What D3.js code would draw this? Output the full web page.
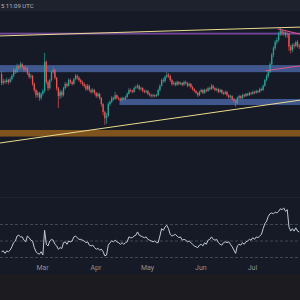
<!DOCTYPE html>
<html>
<head>
<meta charset="utf-8">
<script src="https://d3js.org/d3.v7.min.js"></script>
<style>
  html, body { margin: 0; padding: 0; background: #151a26; }
  svg { display: block; font-family: Roboto, "Noto Sans", sans-serif; }
</style>
</head>
<body>
<svg id="chart" width="300" height="300"></svg>
<script>
// daily candles, first one on Feb 5
var startDay = "2025-02-05";
var firstOpen = 2.68;
var closes = [
  2.49, 2.53, 2.51, 2.55, 2.51, 2.57, 2.64, 2.77, 2.72, 2.85,
  2.81, 2.89, 2.83, 2.77, 2.81, 2.70, 2.62, 2.64, 2.47, 2.34,
  2.23, 2.28, 2.17, 2.26, 2.32, 2.94, 2.51, 2.38, 2.55, 2.72,
  2.77, 2.60, 2.38, 2.21, 2.30, 2.23, 2.38, 2.47, 2.43, 2.55,
  2.51, 2.47, 2.57, 2.64, 2.60, 2.55, 2.51, 2.47, 2.43, 2.36,
  2.43, 2.34, 2.30, 2.34, 2.28, 2.21, 2.26, 2.17, 2.04, 1.87,
  1.74, 1.79, 2.04, 2.09, 2.17, 2.15, 2.23, 2.17, 2.15, 2.13,
  2.17, 2.15, 2.19, 2.26, 2.34, 2.32, 2.30, 2.38, 2.40, 2.43,
  2.36, 2.38, 2.32, 2.30, 2.32, 2.26, 2.23, 2.21, 2.23, 2.21,
  2.23, 2.34, 2.43, 2.55, 2.53, 2.62, 2.66, 2.64, 2.55, 2.47,
  2.49, 2.45, 2.51, 2.47, 2.49, 2.45, 2.51, 2.49, 2.43, 2.47,
  2.40, 2.36, 2.32, 2.28, 2.23, 2.30, 2.34, 2.28, 2.34, 2.32,
  2.38, 2.36, 2.43, 2.38, 2.34, 2.36, 2.30, 2.34, 2.28, 2.26,
  2.30, 2.23, 2.19, 2.21, 2.15, 2.11, 2.06, 2.17, 2.21, 2.17,
  2.23, 2.21, 2.26, 2.23, 2.28, 2.26, 2.30, 2.28, 2.32, 2.30,
  2.36, 2.34, 2.43, 2.55, 2.64, 2.72, 2.89, 3.09, 3.23, 3.36,
  3.40, 3.53, 3.60, 3.55, 3.57, 3.51, 3.53, 3.26, 3.19, 3.30,
  3.28, 3.36, 3.28, 3.26
];
var highs = [
  2.74, 2.58, 2.57, 2.60, 2.58, 2.61, 2.68, 2.81, 2.80, 2.90,
  2.88, 2.94, 2.92, 2.86, 2.85, 2.83, 2.73, 2.68, 2.66, 2.50,
  2.37, 2.32, 2.30, 2.29, 2.36, 3.13, 2.97, 2.55, 2.58, 2.76,
  2.85, 2.79, 2.62, 2.41, 2.35, 2.33, 2.41, 2.51, 2.50, 2.59,
  2.58, 2.54, 2.60, 2.68, 2.67, 2.63, 2.58, 2.54, 2.50, 2.46,
  2.47, 2.45, 2.37, 2.38, 2.36, 2.30, 2.29, 2.28, 2.19, 2.06,
  1.90, 1.85, 2.08, 2.12, 2.21, 2.20, 2.30, 2.25, 2.20, 2.18,
  2.20, 2.19, 2.22, 2.29, 2.38, 2.37, 2.35, 2.41, 2.44, 2.47,
  2.45, 2.41, 2.40, 2.35, 2.35, 2.34, 2.29, 2.26, 2.26, 2.25,
  2.26, 2.37, 2.46, 2.58, 2.60, 2.65, 2.72, 2.70, 2.67, 2.58,
  2.53, 2.52, 2.54, 2.53, 2.52, 2.51, 2.54, 2.54, 2.51, 2.50,
  2.49, 2.43, 2.38, 2.34, 2.30, 2.33, 2.37, 2.36, 2.37, 2.37,
  2.41, 2.41, 2.47, 2.45, 2.40, 2.39, 2.38, 2.37, 2.36, 2.31,
  2.33, 2.32, 2.25, 2.24, 2.23, 2.17, 2.13, 2.20, 2.24, 2.23,
  2.26, 2.26, 2.28, 2.28, 2.31, 2.30, 2.33, 2.32, 2.35, 2.34,
  2.39, 2.39, 2.46, 2.58, 2.68, 2.76, 2.93, 3.13, 3.27, 3.40,
  3.46, 3.58, 3.66, 3.63, 3.61, 3.59, 3.57, 3.55, 3.30, 3.33,
  3.34, 3.39, 3.40, 3.32
];
var lows = [
  2.44, 2.45, 2.47, 2.48, 2.46, 2.49, 2.54, 2.61, 2.68, 2.70,
  2.77, 2.78, 2.80, 2.73, 2.74, 2.66, 2.58, 2.58, 2.43, 2.29,
  2.17, 2.19, 2.11, 2.13, 2.22, 2.28, 2.46, 2.32, 2.35, 2.52,
  2.69, 2.56, 2.33, 1.96, 2.15, 2.18, 2.20, 2.35, 2.39, 2.41,
  2.47, 2.43, 2.45, 2.54, 2.56, 2.51, 2.47, 2.43, 2.39, 2.32,
  2.33, 2.30, 2.26, 2.27, 2.24, 2.17, 2.18, 2.13, 1.99, 1.80,
  1.60, 1.62, 1.77, 2.00, 2.06, 2.11, 2.13, 2.14, 2.12, 2.10,
  2.10, 2.12, 2.13, 2.17, 2.24, 2.29, 2.27, 2.28, 2.36, 2.37,
  2.33, 2.33, 2.29, 2.27, 2.27, 2.23, 2.20, 2.18, 2.18, 2.18,
  2.19, 2.21, 2.31, 2.41, 2.49, 2.50, 2.59, 2.60, 2.51, 2.43,
  2.44, 2.42, 2.43, 2.44, 2.44, 2.42, 2.43, 2.46, 2.40, 2.41,
  2.37, 2.33, 2.29, 2.25, 2.19, 2.21, 2.28, 2.25, 2.26, 2.29,
  2.30, 2.33, 2.34, 2.35, 2.31, 2.31, 2.27, 2.28, 2.25, 2.23,
  2.24, 2.20, 2.15, 2.16, 2.12, 2.07, 1.98, 2.04, 2.14, 2.14,
  2.15, 2.18, 2.19, 2.21, 2.21, 2.23, 2.24, 2.25, 2.26, 2.27,
  2.28, 2.31, 2.32, 2.41, 2.52, 2.60, 2.70, 2.86, 3.04, 3.19,
  3.31, 3.37, 3.49, 3.50, 3.49, 3.46, 3.45, 3.17, 3.12, 3.15,
  3.22, 3.25, 3.24, 3.21
];
var rsi = [
  37, 38, 35, 38, 37, 39, 43, 48, 50, 56,
  57, 55, 55, 51, 49, 56, 54, 51, 50, 42,
  37, 35, 34, 37, 33, 63, 46, 44, 50, 52,
  51, 46, 44, 40, 42, 41, 48, 49, 46, 50,
  49, 50, 55, 56, 54, 52, 52, 51, 50, 48,
  49, 45, 44, 45, 42, 40, 41, 39, 40, 37,
  32, 33, 45, 48, 50, 49, 51, 49, 48, 46,
  48, 46, 48, 49, 55, 54, 54, 56, 57, 61,
  57, 56, 55, 54, 55, 52, 51, 50, 49, 50,
  48, 48, 56, 65, 63, 67, 69, 65, 58, 56,
  57, 58, 56, 54, 55, 51, 52, 51, 49, 50,
  48, 46, 44, 43, 42, 45, 46, 44, 48, 46,
  51, 52, 55, 52, 51, 52, 48, 46, 45, 48,
  49, 48, 49, 46, 43, 39, 35, 44, 46, 45,
  48, 46, 49, 50, 52, 51, 54, 52, 55, 54,
  56, 58, 65, 71, 74, 80, 83, 84, 83, 85,
  84, 86, 89, 88, 90, 86, 88, 67, 62, 65,
  62, 66, 62, 61
];
var rsiLevels = [70, 50, 30];

// zones [bottom, top] and drawn lines
var purpleZone = [3.52, 3.56];
var upperBlueZone = [2.72, 2.87];
var lowerBlueZone = [2.02, 2.15];
var lowerBlueStart = "2025-04-15";
var orangeZone = [1.35, 1.49];
var upperTrend = [["2025-02-04", 3.49], ["2025-07-30", 3.68]];
var lowerTrend = [["2025-02-04", 1.21], ["2025-07-30", 2.13]];
var pinkTop = [["2025-07-16", 3.64], ["2025-07-30", 3.52]];
var pinkBottom = [["2025-07-09", 2.75], ["2025-07-30", 2.86]];

var monthTicks = ["2025-03-01", "2025-04-01", "2025-05-01", "2025-06-01", "2025-07-01"];
var monthLabels = ["Mar", "Apr", "May", "Jun", "Jul"];
var headerText = "5 11:09 UTC";

var parse = d3.timeParse("%Y-%m-%d");
var svg = d3.select("#chart"),
    W = 300, H = 300;

var x = d3.scaleTime()
    .domain([new Date(2025, 1, 4, 14), new Date(2025, 6, 28, 22)])
    .range([0, W]);
var y = d3.scaleLinear().domain([0, 4.255]).range([200, 0]);
var yR = d3.scaleLinear().domain([30, 70]).range([257.5, 224.5]);

// backgrounds
svg.append("rect").attr("width", W).attr("height", H).attr("fill", "#151a26");
svg.append("rect").attr("width", W).attr("height", 11).attr("fill", "#1e222c");
svg.append("rect").attr("y", 274).attr("width", W).attr("height", 26).attr("fill", "#1c1c20");
svg.append("line").attr("x1", 0).attr("x2", W).attr("y1", 197.5).attr("y2", 197.5)
   .attr("stroke", "#1f2430").attr("stroke-width", 1);

svg.append("text")
   .attr("x", 1).attr("y", 7.5)
   .attr("font-size", "6px")
   .attr("fill", "#b4b8c2")
   .text(headerText);

svg.append("clipPath").attr("id", "pane")
   .append("rect").attr("x", 0).attr("y", 11).attr("width", W).attr("height", 186);
var g = svg.append("g").attr("clip-path", "url(#pane)");

function zone(z, from, color, op) {
    var x0 = from ? x(parse(from)) : 0;
    g.append("rect")
     .attr("x", x0).attr("width", W - x0)
     .attr("y", y(z[1])).attr("height", y(z[0]) - y(z[1]))
     .attr("fill", color).attr("opacity", op);
}
zone(purpleZone, null, "#7a4aa6", 0.9);
zone(upperBlueZone, null, "#4763a0", 0.85);
zone(lowerBlueZone, lowerBlueStart, "#4763a0", 0.85);
zone(orangeZone, null, "#85561d", 0.95);

// candles
var candles = closes.map(function(c, i) {
    var day = d3.timeDay.offset(parse(startDay), i);
    return {
        date: d3.timeHour.offset(day, 12),
        open: i == 0 ? firstOpen : closes[i - 1],
        close: c, high: highs[i], low: lows[i]
    };
});

var cg = g.selectAll(".candle").data(candles).enter().append("g");
cg.append("line")
  .attr("x1", function(d) { return x(d.date); })
  .attr("x2", function(d) { return x(d.date); })
  .attr("y1", function(d) { return y(d.high); })
  .attr("y2", function(d) { return y(d.low); })
  .attr("stroke", function(d) { return d.close >= d.open ? "#26a69a" : "#ef5350"; })
  .attr("stroke-width", 0.7);
cg.append("rect")
  .attr("x", function(d) { return x(d.date) - 0.65; })
  .attr("width", 1.3)
  .attr("y", function(d) { return y(Math.max(d.open, d.close)); })
  .attr("height", function(d) { return Math.max(0.6, Math.abs(y(d.open) - y(d.close))); })
  .attr("fill", function(d) { return d.close >= d.open ? "#26a69a" : "#ef5350"; });

function trend(pts, color, w) {
    g.append("line")
     .attr("x1", x(parse(pts[0][0]))).attr("y1", y(pts[0][1]))
     .attr("x2", x(parse(pts[1][0]))).attr("y2", y(pts[1][1]))
     .attr("stroke", color).attr("stroke-width", w);
}
trend(upperTrend, "#eadb8e", 1);
trend(lowerTrend, "#eadb8e", 1);
trend(pinkTop, "#e2558a", 1);
trend(pinkBottom, "#e2558a", 1);

// RSI pane
svg.selectAll(".lvl").data(rsiLevels).enter().append("line")
   .attr("x1", 0).attr("x2", W)
   .attr("y1", function(d) { return yR(d); })
   .attr("y2", function(d) { return yR(d); })
   .attr("stroke", "#545a68")
   .attr("stroke-width", 0.7)
   .attr("stroke-dasharray", "3,2");

var rsiLine = d3.line()
    .x(function(d, i) { return x(candles[i].date); })
    .y(function(d) { return yR(d); });
svg.append("path")
   .datum(rsi)
   .attr("d", rsiLine)
   .attr("fill", "none")
   .attr("stroke", "#c2c9d6")
   .attr("stroke-width", 1);

// time axis
var axis = svg.append("g")
   .attr("transform", "translate(0,262)")
   .call(d3.axisBottom(x)
       .tickValues(monthTicks.map(parse))
       .tickFormat(function(d, i) { return monthLabels[i]; })
       .tickSize(0)
       .tickPadding(3));
axis.select(".domain").remove();
axis.selectAll("text")
    .attr("fill", "#8c909b")
    .attr("font-size", "7px")
    .attr("font-family", "Roboto, sans-serif");
</script>
</body>
</html>
